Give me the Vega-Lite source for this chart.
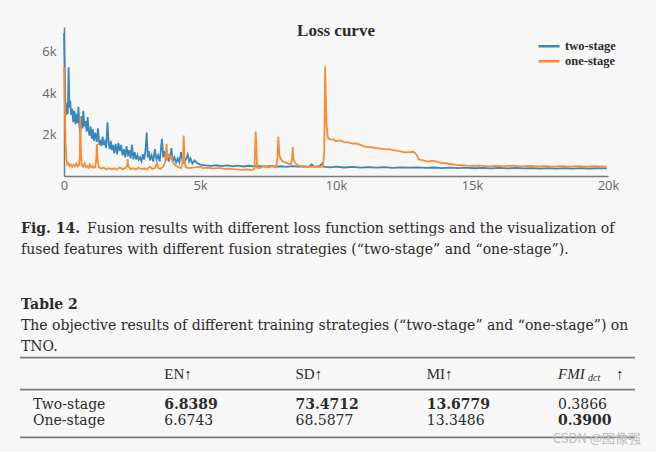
{
"$schema": "https://vega.github.io/schema/vega-lite/v6.json",
"width": 544, "height": 149,
"autosize": {"type": "none"},
"padding": {"left": 64, "top": 27, "right": 48, "bottom": 276},
"background": "#f7f7f7",
"config": {"view": {"stroke": null}},
"title": {"text": "Loss curve", "font": "Liberation Serif", "fontSize": 17, "fontWeight": "bold", "color": "#2b2b2b", "anchor": "middle", "frame": "group", "baseline": "alphabetic", "offset": -26},
"datasets": {
"loss": [
{"strategy":"two-stage","iteration":0,"loss":6900},{"strategy":"two-stage","iteration":20,"loss":5600},{"strategy":"two-stage","iteration":50,"loss":3600},{"strategy":"two-stage","iteration":80,"loss":2950},{"strategy":"two-stage","iteration":110,"loss":3500},{"strategy":"two-stage","iteration":140,"loss":3000},{"strategy":"two-stage","iteration":170,"loss":5250},{"strategy":"two-stage","iteration":200,"loss":3300},{"strategy":"two-stage","iteration":230,"loss":3650},{"strategy":"two-stage","iteration":260,"loss":2950},{"strategy":"two-stage","iteration":300,"loss":3250},{"strategy":"two-stage","iteration":340,"loss":2600},{"strategy":"two-stage","iteration":380,"loss":3150},{"strategy":"two-stage","iteration":420,"loss":2500},{"strategy":"two-stage","iteration":460,"loss":3000},{"strategy":"two-stage","iteration":500,"loss":2550},{"strategy":"two-stage","iteration":530,"loss":3350},{"strategy":"two-stage","iteration":570,"loss":2350},{"strategy":"two-stage","iteration":600,"loss":2050},{"strategy":"two-stage","iteration":640,"loss":2900},{"strategy":"two-stage","iteration":680,"loss":2300},{"strategy":"two-stage","iteration":710,"loss":3150},{"strategy":"two-stage","iteration":750,"loss":2400},{"strategy":"two-stage","iteration":790,"loss":2650},{"strategy":"two-stage","iteration":830,"loss":2150},{"strategy":"two-stage","iteration":870,"loss":2850},{"strategy":"two-stage","iteration":900,"loss":2200},{"strategy":"two-stage","iteration":940,"loss":1950},{"strategy":"two-stage","iteration":980,"loss":2400},{"strategy":"two-stage","iteration":1020,"loss":1800},{"strategy":"two-stage","iteration":1060,"loss":2250},{"strategy":"two-stage","iteration":1100,"loss":1700},{"strategy":"two-stage","iteration":1150,"loss":2100},{"strategy":"two-stage","iteration":1200,"loss":1650},{"strategy":"two-stage","iteration":1250,"loss":2300},{"strategy":"two-stage","iteration":1300,"loss":1500},{"strategy":"two-stage","iteration":1340,"loss":1750},{"strategy":"two-stage","iteration":1380,"loss":1450},{"strategy":"two-stage","iteration":1420,"loss":1900},{"strategy":"two-stage","iteration":1460,"loss":1500},{"strategy":"two-stage","iteration":1500,"loss":1650},{"strategy":"two-stage","iteration":1550,"loss":1350},{"strategy":"two-stage","iteration":1600,"loss":2600},{"strategy":"two-stage","iteration":1640,"loss":1600},{"strategy":"two-stage","iteration":1680,"loss":1300},{"strategy":"two-stage","iteration":1720,"loss":1700},{"strategy":"two-stage","iteration":1760,"loss":1250},{"strategy":"two-stage","iteration":1800,"loss":1500},{"strategy":"two-stage","iteration":1850,"loss":1100},{"strategy":"two-stage","iteration":1900,"loss":1550},{"strategy":"two-stage","iteration":1950,"loss":1050},{"strategy":"two-stage","iteration":2000,"loss":1600},{"strategy":"two-stage","iteration":2050,"loss":1200},{"strategy":"two-stage","iteration":2100,"loss":1500},{"strategy":"two-stage","iteration":2150,"loss":1000},{"strategy":"two-stage","iteration":2200,"loss":1300},{"strategy":"two-stage","iteration":2250,"loss":900},{"strategy":"two-stage","iteration":2300,"loss":1450},{"strategy":"two-stage","iteration":2350,"loss":950},{"strategy":"two-stage","iteration":2400,"loss":1250},{"strategy":"two-stage","iteration":2450,"loss":850},{"strategy":"two-stage","iteration":2500,"loss":1500},{"strategy":"two-stage","iteration":2550,"loss":800},{"strategy":"two-stage","iteration":2600,"loss":1150},{"strategy":"two-stage","iteration":2650,"loss":800},{"strategy":"two-stage","iteration":2700,"loss":1000},{"strategy":"two-stage","iteration":2750,"loss":780},{"strategy":"two-stage","iteration":2800,"loss":900},{"strategy":"two-stage","iteration":2850,"loss":720},{"strategy":"two-stage","iteration":2900,"loss":1050},{"strategy":"two-stage","iteration":2950,"loss":800},{"strategy":"two-stage","iteration":3000,"loss":1300},{"strategy":"two-stage","iteration":3040,"loss":2100},{"strategy":"two-stage","iteration":3080,"loss":900},{"strategy":"two-stage","iteration":3120,"loss":1200},{"strategy":"two-stage","iteration":3160,"loss":750},{"strategy":"two-stage","iteration":3220,"loss":1000},{"strategy":"two-stage","iteration":3280,"loss":700},{"strategy":"two-stage","iteration":3340,"loss":1300},{"strategy":"two-stage","iteration":3400,"loss":800},{"strategy":"two-stage","iteration":3460,"loss":1000},{"strategy":"two-stage","iteration":3520,"loss":700},{"strategy":"two-stage","iteration":3600,"loss":1800},{"strategy":"two-stage","iteration":3650,"loss":900},{"strategy":"two-stage","iteration":3700,"loss":1200},{"strategy":"two-stage","iteration":3750,"loss":750},{"strategy":"two-stage","iteration":3800,"loss":1050},{"strategy":"two-stage","iteration":3850,"loss":700},{"strategy":"two-stage","iteration":3900,"loss":950},{"strategy":"two-stage","iteration":3950,"loss":1350},{"strategy":"two-stage","iteration":4000,"loss":700},{"strategy":"two-stage","iteration":4060,"loss":900},{"strategy":"two-stage","iteration":4120,"loss":650},{"strategy":"two-stage","iteration":4180,"loss":850},{"strategy":"two-stage","iteration":4240,"loss":650},{"strategy":"two-stage","iteration":4300,"loss":1150},{"strategy":"two-stage","iteration":4360,"loss":700},{"strategy":"two-stage","iteration":4420,"loss":620},{"strategy":"two-stage","iteration":4480,"loss":800},{"strategy":"two-stage","iteration":4550,"loss":1050},{"strategy":"two-stage","iteration":4600,"loss":700},{"strategy":"two-stage","iteration":4650,"loss":850},{"strategy":"two-stage","iteration":4720,"loss":600},{"strategy":"two-stage","iteration":4800,"loss":750},{"strategy":"two-stage","iteration":4900,"loss":620},{"strategy":"two-stage","iteration":5000,"loss":560},{"strategy":"two-stage","iteration":5100,"loss":520},{"strategy":"two-stage","iteration":5200,"loss":510},{"strategy":"two-stage","iteration":5400,"loss":490},{"strategy":"two-stage","iteration":5600,"loss":520},{"strategy":"two-stage","iteration":5800,"loss":480},{"strategy":"two-stage","iteration":6000,"loss":510},{"strategy":"two-stage","iteration":6200,"loss":470},{"strategy":"two-stage","iteration":6400,"loss":500},{"strategy":"two-stage","iteration":6600,"loss":460},{"strategy":"two-stage","iteration":6800,"loss":495},{"strategy":"two-stage","iteration":7000,"loss":470},{"strategy":"two-stage","iteration":7200,"loss":480},{"strategy":"two-stage","iteration":7400,"loss":450},{"strategy":"two-stage","iteration":7600,"loss":490},{"strategy":"two-stage","iteration":7800,"loss":455},{"strategy":"two-stage","iteration":8000,"loss":470},{"strategy":"two-stage","iteration":8200,"loss":440},{"strategy":"two-stage","iteration":8400,"loss":475},{"strategy":"two-stage","iteration":8600,"loss":450},{"strategy":"two-stage","iteration":8800,"loss":460},{"strategy":"two-stage","iteration":9000,"loss":440},{"strategy":"two-stage","iteration":9100,"loss":560},{"strategy":"two-stage","iteration":9200,"loss":450},{"strategy":"two-stage","iteration":9400,"loss":480},{"strategy":"two-stage","iteration":9500,"loss":620},{"strategy":"two-stage","iteration":9550,"loss":450},{"strategy":"two-stage","iteration":9800,"loss":420},{"strategy":"two-stage","iteration":10000,"loss":450},{"strategy":"two-stage","iteration":10300,"loss":410},{"strategy":"two-stage","iteration":10600,"loss":440},{"strategy":"two-stage","iteration":10900,"loss":405},{"strategy":"two-stage","iteration":11200,"loss":430},{"strategy":"two-stage","iteration":11500,"loss":400},{"strategy":"two-stage","iteration":11800,"loss":425},{"strategy":"two-stage","iteration":12100,"loss":395},{"strategy":"two-stage","iteration":12400,"loss":420},{"strategy":"two-stage","iteration":12700,"loss":400},{"strategy":"two-stage","iteration":13000,"loss":415},{"strategy":"two-stage","iteration":13300,"loss":390},{"strategy":"two-stage","iteration":13600,"loss":410},{"strategy":"two-stage","iteration":13900,"loss":385},{"strategy":"two-stage","iteration":14200,"loss":405},{"strategy":"two-stage","iteration":14500,"loss":380},{"strategy":"two-stage","iteration":14800,"loss":400},{"strategy":"two-stage","iteration":15100,"loss":375},{"strategy":"two-stage","iteration":15400,"loss":395},{"strategy":"two-stage","iteration":15700,"loss":370},{"strategy":"two-stage","iteration":16000,"loss":390},{"strategy":"two-stage","iteration":16300,"loss":365},{"strategy":"two-stage","iteration":16600,"loss":390},{"strategy":"two-stage","iteration":16900,"loss":365},{"strategy":"two-stage","iteration":17200,"loss":385},{"strategy":"two-stage","iteration":17500,"loss":360},{"strategy":"two-stage","iteration":17800,"loss":385},{"strategy":"two-stage","iteration":18100,"loss":360},{"strategy":"two-stage","iteration":18400,"loss":380},{"strategy":"two-stage","iteration":18700,"loss":355},{"strategy":"two-stage","iteration":19000,"loss":380},{"strategy":"two-stage","iteration":19300,"loss":360},{"strategy":"two-stage","iteration":19600,"loss":375},{"strategy":"two-stage","iteration":19950,"loss":365},
{"strategy":"one-stage","iteration":0,"loss":5250},{"strategy":"one-stage","iteration":30,"loss":3500},{"strategy":"one-stage","iteration":60,"loss":1500},{"strategy":"one-stage","iteration":90,"loss":800},{"strategy":"one-stage","iteration":120,"loss":560},{"strategy":"one-stage","iteration":160,"loss":620},{"strategy":"one-stage","iteration":200,"loss":480},{"strategy":"one-stage","iteration":250,"loss":560},{"strategy":"one-stage","iteration":300,"loss":450},{"strategy":"one-stage","iteration":350,"loss":540},{"strategy":"one-stage","iteration":400,"loss":470},{"strategy":"one-stage","iteration":450,"loss":600},{"strategy":"one-stage","iteration":500,"loss":460},{"strategy":"one-stage","iteration":550,"loss":520},{"strategy":"one-stage","iteration":580,"loss":900},{"strategy":"one-stage","iteration":600,"loss":2850},{"strategy":"one-stage","iteration":620,"loss":1300},{"strategy":"one-stage","iteration":650,"loss":520},{"strategy":"one-stage","iteration":700,"loss":440},{"strategy":"one-stage","iteration":760,"loss":600},{"strategy":"one-stage","iteration":800,"loss":420},{"strategy":"one-stage","iteration":850,"loss":480},{"strategy":"one-stage","iteration":900,"loss":400},{"strategy":"one-stage","iteration":950,"loss":560},{"strategy":"one-stage","iteration":1000,"loss":420},{"strategy":"one-stage","iteration":1050,"loss":470},{"strategy":"one-stage","iteration":1100,"loss":390},{"strategy":"one-stage","iteration":1150,"loss":430},{"strategy":"one-stage","iteration":1190,"loss":900},{"strategy":"one-stage","iteration":1210,"loss":1550},{"strategy":"one-stage","iteration":1240,"loss":700},{"strategy":"one-stage","iteration":1280,"loss":420},{"strategy":"one-stage","iteration":1350,"loss":360},{"strategy":"one-stage","iteration":1450,"loss":400},{"strategy":"one-stage","iteration":1550,"loss":330},{"strategy":"one-stage","iteration":1650,"loss":380},{"strategy":"one-stage","iteration":1750,"loss":320},{"strategy":"one-stage","iteration":1850,"loss":360},{"strategy":"one-stage","iteration":1950,"loss":310},{"strategy":"one-stage","iteration":2050,"loss":420},{"strategy":"one-stage","iteration":2150,"loss":330},{"strategy":"one-stage","iteration":2250,"loss":370},{"strategy":"one-stage","iteration":2320,"loss":500},{"strategy":"one-stage","iteration":2340,"loss":800},{"strategy":"one-stage","iteration":2370,"loss":450},{"strategy":"one-stage","iteration":2450,"loss":330},{"strategy":"one-stage","iteration":2550,"loss":380},{"strategy":"one-stage","iteration":2650,"loss":320},{"strategy":"one-stage","iteration":2750,"loss":400},{"strategy":"one-stage","iteration":2850,"loss":330},{"strategy":"one-stage","iteration":2950,"loss":360},{"strategy":"one-stage","iteration":3050,"loss":320},{"strategy":"one-stage","iteration":3150,"loss":450},{"strategy":"one-stage","iteration":3250,"loss":340},{"strategy":"one-stage","iteration":3350,"loss":400},{"strategy":"one-stage","iteration":3420,"loss":620},{"strategy":"one-stage","iteration":3460,"loss":380},{"strategy":"one-stage","iteration":3550,"loss":350},{"strategy":"one-stage","iteration":3650,"loss":450},{"strategy":"one-stage","iteration":3720,"loss":700},{"strategy":"one-stage","iteration":3770,"loss":1550},{"strategy":"one-stage","iteration":3800,"loss":900},{"strategy":"one-stage","iteration":3850,"loss":1000},{"strategy":"one-stage","iteration":3900,"loss":850},{"strategy":"one-stage","iteration":3950,"loss":950},{"strategy":"one-stage","iteration":4000,"loss":650},{"strategy":"one-stage","iteration":4100,"loss":500},{"strategy":"one-stage","iteration":4200,"loss":430},{"strategy":"one-stage","iteration":4300,"loss":380},{"strategy":"one-stage","iteration":4370,"loss":700},{"strategy":"one-stage","iteration":4400,"loss":1950},{"strategy":"one-stage","iteration":4430,"loss":700},{"strategy":"one-stage","iteration":4480,"loss":420},{"strategy":"one-stage","iteration":4600,"loss":380},{"strategy":"one-stage","iteration":4800,"loss":420},{"strategy":"one-stage","iteration":5000,"loss":450},{"strategy":"one-stage","iteration":5100,"loss":380},{"strategy":"one-stage","iteration":5300,"loss":400},{"strategy":"one-stage","iteration":5500,"loss":360},{"strategy":"one-stage","iteration":5700,"loss":390},{"strategy":"one-stage","iteration":5900,"loss":340},{"strategy":"one-stage","iteration":6100,"loss":360},{"strategy":"one-stage","iteration":6300,"loss":320},{"strategy":"one-stage","iteration":6500,"loss":300},{"strategy":"one-stage","iteration":6700,"loss":320},{"strategy":"one-stage","iteration":6900,"loss":290},{"strategy":"one-stage","iteration":7000,"loss":350},{"strategy":"one-stage","iteration":7050,"loss":2150},{"strategy":"one-stage","iteration":7100,"loss":400},{"strategy":"one-stage","iteration":7200,"loss":380},{"strategy":"one-stage","iteration":7350,"loss":480},{"strategy":"one-stage","iteration":7500,"loss":420},{"strategy":"one-stage","iteration":7650,"loss":470},{"strategy":"one-stage","iteration":7800,"loss":420},{"strategy":"one-stage","iteration":7850,"loss":900},{"strategy":"one-stage","iteration":7880,"loss":1900},{"strategy":"one-stage","iteration":7920,"loss":1000},{"strategy":"one-stage","iteration":7980,"loss":800},{"strategy":"one-stage","iteration":8050,"loss":700},{"strategy":"one-stage","iteration":8150,"loss":650},{"strategy":"one-stage","iteration":8250,"loss":600},{"strategy":"one-stage","iteration":8350,"loss":560},{"strategy":"one-stage","iteration":8390,"loss":900},{"strategy":"one-stage","iteration":8410,"loss":1400},{"strategy":"one-stage","iteration":8440,"loss":800},{"strategy":"one-stage","iteration":8500,"loss":620},{"strategy":"one-stage","iteration":8600,"loss":520},{"strategy":"one-stage","iteration":8700,"loss":480},{"strategy":"one-stage","iteration":8850,"loss":460},{"strategy":"one-stage","iteration":9000,"loss":440},{"strategy":"one-stage","iteration":9200,"loss":450},{"strategy":"one-stage","iteration":9400,"loss":430},{"strategy":"one-stage","iteration":9520,"loss":460},{"strategy":"one-stage","iteration":9570,"loss":1200},{"strategy":"one-stage","iteration":9600,"loss":5300},{"strategy":"one-stage","iteration":9650,"loss":2500},{"strategy":"one-stage","iteration":9700,"loss":1850},{"strategy":"one-stage","iteration":9800,"loss":1750},{"strategy":"one-stage","iteration":9900,"loss":1780},{"strategy":"one-stage","iteration":10000,"loss":1680},{"strategy":"one-stage","iteration":10150,"loss":1720},{"strategy":"one-stage","iteration":10300,"loss":1640},{"strategy":"one-stage","iteration":10450,"loss":1620},{"strategy":"one-stage","iteration":10600,"loss":1560},{"strategy":"one-stage","iteration":10750,"loss":1570},{"strategy":"one-stage","iteration":10900,"loss":1500},{"strategy":"one-stage","iteration":11050,"loss":1420},{"strategy":"one-stage","iteration":11200,"loss":1400},{"strategy":"one-stage","iteration":11350,"loss":1380},{"strategy":"one-stage","iteration":11500,"loss":1340},{"strategy":"one-stage","iteration":11650,"loss":1320},{"strategy":"one-stage","iteration":11800,"loss":1290},{"strategy":"one-stage","iteration":11950,"loss":1300},{"strategy":"one-stage","iteration":12100,"loss":1250},{"strategy":"one-stage","iteration":12250,"loss":1230},{"strategy":"one-stage","iteration":12400,"loss":1180},{"strategy":"one-stage","iteration":12550,"loss":1140},{"strategy":"one-stage","iteration":12700,"loss":1150},{"strategy":"one-stage","iteration":12850,"loss":1170},{"strategy":"one-stage","iteration":12950,"loss":1050},{"strategy":"one-stage","iteration":13050,"loss":800},{"strategy":"one-stage","iteration":13200,"loss":760},{"strategy":"one-stage","iteration":13400,"loss":700},{"strategy":"one-stage","iteration":13550,"loss":740},{"strategy":"one-stage","iteration":13700,"loss":690},{"strategy":"one-stage","iteration":13850,"loss":640},{"strategy":"one-stage","iteration":14000,"loss":620},{"strategy":"one-stage","iteration":14200,"loss":580},{"strategy":"one-stage","iteration":14400,"loss":540},{"strategy":"one-stage","iteration":14600,"loss":520},{"strategy":"one-stage","iteration":14800,"loss":500},{"strategy":"one-stage","iteration":15000,"loss":490},{"strategy":"one-stage","iteration":15300,"loss":500},{"strategy":"one-stage","iteration":15600,"loss":470},{"strategy":"one-stage","iteration":15900,"loss":490},{"strategy":"one-stage","iteration":16200,"loss":460},{"strategy":"one-stage","iteration":16500,"loss":500},{"strategy":"one-stage","iteration":16800,"loss":470},{"strategy":"one-stage","iteration":17100,"loss":490},{"strategy":"one-stage","iteration":17400,"loss":460},{"strategy":"one-stage","iteration":17700,"loss":480},{"strategy":"one-stage","iteration":18000,"loss":455},{"strategy":"one-stage","iteration":18300,"loss":480},{"strategy":"one-stage","iteration":18600,"loss":450},{"strategy":"one-stage","iteration":18900,"loss":475},{"strategy":"one-stage","iteration":19200,"loss":450},{"strategy":"one-stage","iteration":19500,"loss":470},{"strategy":"one-stage","iteration":19950,"loss":455}
],
"figureCaption": [
{"line": 1, "part": "label", "text": "Fig. 14."},
{"line": 1, "part": "body", "text": "Fusion results with different loss function settings and the visualization of"},
{"line": 2, "part": "body", "text": "fused features with different fusion strategies (“two-stage” and “one-stage”)."}
],
"tableCaption": [
{"line": 1, "part": "label", "text": "Table 2"},
{"line": 2, "part": "body", "text": "The objective results of different training strategies (“two-stage” and “one-stage”) on"},
{"line": 3, "part": "body", "text": "TNO."}
],
"tableHeader": [
{"col": "EN", "text": "EN↑", "sub": "", "arrow": ""},
{"col": "SD", "text": "SD↑", "sub": "", "arrow": ""},
{"col": "MI", "text": "MI↑", "sub": "", "arrow": ""},
{"col": "FMI", "text": "FMI", "sub": "dct", "arrow": "↑"}
],
"tableCells": [
{"row": "Two-stage", "col": "EN", "value": 6.8389, "best": true},
{"row": "Two-stage", "col": "SD", "value": 73.4712, "best": true},
{"row": "Two-stage", "col": "MI", "value": 13.6779, "best": true},
{"row": "Two-stage", "col": "FMI", "value": 0.3866, "best": false},
{"row": "One-stage", "col": "EN", "value": 6.6743, "best": false},
{"row": "One-stage", "col": "SD", "value": 68.5877, "best": false},
{"row": "One-stage", "col": "MI", "value": 13.3486, "best": false},
{"row": "One-stage", "col": "FMI", "value": 0.3900, "best": true}
],
"tableRules": [
{"row": "rule-top"},
{"row": "rule-mid"},
{"row": "rule-bottom"}
]
},
"resolve": {"scale": {"x": "independent", "y": "independent"}},
"layer": [
{
"data": {"name": "loss"},
"mark": {"type": "line", "strokeWidth": 1.8},
"encoding": {
"x": {"field": "iteration", "type": "quantitative", "scale": {"domain": [0, 20000], "nice": false, "zero": false},
"axis": {"values": [0, 5000, 10000, 15000, 20000], "labelExpr": "datum.value == 0 ? '0' : format(datum.value, '~s')", "labelFlush": false, "ticks": false, "grid": false, "domainColor": "#7a7a7a", "domainWidth": 1.5, "labelColor": "#666666", "labelFont": "Open Sans", "labelFontSize": 13, "labelPadding": 3, "title": null}},
"y": {"field": "loss", "type": "quantitative", "scale": {"domain": [0, 7200], "nice": false, "zero": false},
"axis": {"values": [2000, 4000, 6000], "labelExpr": "format(datum.value, '~s')", "ticks": false, "grid": false, "domainColor": "#7a7a7a", "domainWidth": 1.5, "labelColor": "#666666", "labelFont": "Open Sans", "labelFontSize": 13, "labelPadding": 8, "title": null}},
"color": {"field": "strategy", "type": "nominal", "scale": {"domain": ["two-stage", "one-stage"], "range": ["#3a86be", "#fd8c2e"]},
"legend": {"title": null, "orient": "none", "direction": "vertical", "legendX": 473, "legendY": 12, "symbolType": "stroke", "symbolSize": 441, "symbolStrokeWidth": 2.5, "clipHeight": 14.5, "labelFont": "Liberation Serif", "labelFontSize": 12.5, "labelFontWeight": "bold", "labelColor": "#2b2b2b", "labelOffset": 4, "rowPadding": 0, "padding": 0}}
}
},
{
"data": {"name": "figureCaption"},
"layer": [
{"transform": [{"filter": "datum.part === 'label'"}],
"mark": {"type": "text", "align": "left", "baseline": "alphabetic", "font": "DejaVu Serif", "fontSize": 14, "fontWeight": "bold", "color": "#2b2b2b"},
"encoding": {
"x": {"datum": 0, "type": "quantitative", "scale": {"domain": [0, 1], "range": [-43, 571]}, "axis": null},
"y": {"field": "line", "type": "ordinal", "scale": {"type": "point", "domain": [1, 2], "range": [205.7, 227.3], "padding": 0}, "axis": null},
"text": {"field": "text"}}},
{"transform": [{"filter": "datum.part === 'body' && datum.line === 1"}],
"mark": {"type": "text", "align": "left", "baseline": "alphabetic", "font": "DejaVu Serif", "fontSize": 14, "color": "#2b2b2b", "dx": 66},
"encoding": {
"x": {"datum": 0, "type": "quantitative", "scale": {"domain": [0, 1], "range": [-43, 571]}, "axis": null},
"y": {"field": "line", "type": "ordinal", "scale": {"type": "point", "domain": [1, 2], "range": [205.7, 227.3], "padding": 0}, "axis": null},
"text": {"field": "text"}}},
{"transform": [{"filter": "datum.part === 'body' && datum.line === 2"}],
"mark": {"type": "text", "align": "left", "baseline": "alphabetic", "font": "DejaVu Serif", "fontSize": 14, "color": "#2b2b2b"},
"encoding": {
"x": {"datum": 0, "type": "quantitative", "scale": {"domain": [0, 1], "range": [-43, 571]}, "axis": null},
"y": {"field": "line", "type": "ordinal", "scale": {"type": "point", "domain": [1, 2], "range": [205.7, 227.3], "padding": 0}, "axis": null},
"text": {"field": "text"}}}
]
},
{
"data": {"name": "tableCaption"},
"layer": [
{"transform": [{"filter": "datum.part === 'label'"}],
"mark": {"type": "text", "align": "left", "baseline": "alphabetic", "font": "DejaVu Serif", "fontSize": 14, "fontWeight": "bold", "color": "#2b2b2b"},
"encoding": {
"x": {"datum": 0, "type": "quantitative", "scale": {"domain": [0, 1], "range": [-43, 571]}, "axis": null},
"y": {"field": "line", "type": "ordinal", "scale": {"type": "point", "domain": [1, 2, 3], "range": [281.7, 324], "padding": 0}, "axis": null},
"text": {"field": "text"}}},
{"transform": [{"filter": "datum.part === 'body'"}],
"mark": {"type": "text", "align": "left", "baseline": "alphabetic", "font": "DejaVu Serif", "fontSize": 14, "color": "#2b2b2b"},
"encoding": {
"x": {"datum": 0, "type": "quantitative", "scale": {"domain": [0, 1], "range": [-43, 571]}, "axis": null},
"y": {"field": "line", "type": "ordinal", "scale": {"type": "point", "domain": [1, 2, 3], "range": [281.7, 324], "padding": 0}, "axis": null},
"text": {"field": "text"}}}
]
},
{
"layer": [
{"data": {"name": "tableCells"},
"transform": [{"filter": "datum.col === 'EN'"}],
"mark": {"type": "text", "align": "left", "baseline": "middle", "font": "DejaVu Serif", "fontSize": 14, "color": "#2b2b2b"},
"encoding": {
"x": {"datum": "label", "type": "nominal", "scale": {"type": "point", "domain": ["label", "EN", "SD", "MI", "FMI"], "range": [-31, 494], "padding": 0}, "axis": null},
"y": {"field": "row", "type": "nominal", "scale": {"type": "point", "domain": ["rule-top", "header", "rule-mid", "Two-stage", "One-stage", "rule-bottom"], "range": [330.7, 410.3], "padding": 0}, "axis": null},
"text": {"field": "row"}}},
{"data": {"name": "tableCells"},
"transform": [{"filter": "!datum.best"}],
"mark": {"type": "text", "align": "left", "baseline": "middle", "font": "DejaVu Serif", "fontSize": 14, "color": "#2b2b2b"},
"encoding": {
"x": {"field": "col", "type": "nominal", "scale": {"type": "point", "domain": ["label", "EN", "SD", "MI", "FMI"], "range": [-31, 494], "padding": 0}, "axis": null},
"y": {"field": "row", "type": "nominal", "scale": {"type": "point", "domain": ["rule-top", "header", "rule-mid", "Two-stage", "One-stage", "rule-bottom"], "range": [330.7, 410.3], "padding": 0}, "axis": null},
"text": {"field": "value", "type": "quantitative", "format": ".4f"}}},
{"data": {"name": "tableCells"},
"transform": [{"filter": "datum.best"}],
"mark": {"type": "text", "align": "left", "baseline": "middle", "font": "DejaVu Serif", "fontSize": 14, "fontWeight": "bold", "color": "#2b2b2b"},
"encoding": {
"x": {"field": "col", "type": "nominal", "scale": {"type": "point", "domain": ["label", "EN", "SD", "MI", "FMI"], "range": [-31, 494], "padding": 0}, "axis": null},
"y": {"field": "row", "type": "nominal", "scale": {"type": "point", "domain": ["rule-top", "header", "rule-mid", "Two-stage", "One-stage", "rule-bottom"], "range": [330.7, 410.3], "padding": 0}, "axis": null},
"text": {"field": "value", "type": "quantitative", "format": ".4f"}}},
{"data": {"name": "tableHeader"},
"transform": [{"filter": "datum.col !== 'FMI'"}],
"mark": {"type": "text", "align": "left", "baseline": "middle", "font": "Liberation Serif", "fontSize": 15, "color": "#2b2b2b"},
"encoding": {
"x": {"field": "col", "type": "nominal", "scale": {"type": "point", "domain": ["label", "EN", "SD", "MI", "FMI"], "range": [-31, 494], "padding": 0}, "axis": null},
"y": {"datum": "header", "type": "nominal", "scale": {"type": "point", "domain": ["rule-top", "header", "rule-mid", "Two-stage", "One-stage", "rule-bottom"], "range": [330.7, 410.3], "padding": 0}, "axis": null},
"text": {"field": "text"}}},
{"data": {"name": "tableHeader"},
"transform": [{"filter": "datum.col === 'FMI'"}],
"mark": {"type": "text", "align": "left", "baseline": "middle", "font": "Liberation Serif", "fontSize": 15, "fontStyle": "italic", "color": "#2b2b2b"},
"encoding": {
"x": {"field": "col", "type": "nominal", "scale": {"type": "point", "domain": ["label", "EN", "SD", "MI", "FMI"], "range": [-31, 494], "padding": 0}, "axis": null},
"y": {"datum": "header", "type": "nominal", "scale": {"type": "point", "domain": ["rule-top", "header", "rule-mid", "Two-stage", "One-stage", "rule-bottom"], "range": [330.7, 410.3], "padding": 0}, "axis": null},
"text": {"field": "text"}}},
{"data": {"name": "tableHeader"},
"transform": [{"filter": "datum.col === 'FMI'"}],
"mark": {"type": "text", "align": "left", "baseline": "middle", "font": "Liberation Serif", "fontSize": 10, "fontStyle": "italic", "color": "#2b2b2b", "dx": 30, "dy": 4},
"encoding": {
"x": {"field": "col", "type": "nominal", "scale": {"type": "point", "domain": ["label", "EN", "SD", "MI", "FMI"], "range": [-31, 494], "padding": 0}, "axis": null},
"y": {"datum": "header", "type": "nominal", "scale": {"type": "point", "domain": ["rule-top", "header", "rule-mid", "Two-stage", "One-stage", "rule-bottom"], "range": [330.7, 410.3], "padding": 0}, "axis": null},
"text": {"field": "sub"}}},
{"data": {"name": "tableHeader"},
"transform": [{"filter": "datum.col === 'FMI'"}],
"mark": {"type": "text", "align": "left", "baseline": "middle", "font": "Liberation Serif", "fontSize": 15, "color": "#2b2b2b", "dx": 58},
"encoding": {
"x": {"field": "col", "type": "nominal", "scale": {"type": "point", "domain": ["label", "EN", "SD", "MI", "FMI"], "range": [-31, 494], "padding": 0}, "axis": null},
"y": {"datum": "header", "type": "nominal", "scale": {"type": "point", "domain": ["rule-top", "header", "rule-mid", "Two-stage", "One-stage", "rule-bottom"], "range": [330.7, 410.3], "padding": 0}, "axis": null},
"text": {"field": "arrow"}}}
]
},
{
"layer": [
{"data": {"name": "tableRules"},
"mark": {"type": "rule", "color": "#7a7a7a", "strokeWidth": 1.8},
"encoding": {
"x": {"datum": 0, "type": "quantitative", "scale": {"domain": [0, 1], "range": [-44, 571]}, "axis": null},
"x2": {"datum": 1},
"y": {"field": "row", "type": "nominal", "scale": {"type": "point", "domain": ["rule-top", "header", "rule-mid", "Two-stage", "One-stage", "rule-bottom"], "range": [330.7, 410.3], "padding": 0}, "axis": null}}},
{"data": {"values": [{"text": "CSDN @图像强"}]},
"mark": {"type": "text", "align": "right", "baseline": "middle", "font": "Noto Sans CJK SC", "fontSize": 13, "color": "#bdbdbd", "dx": 6, "dy": 2},
"encoding": {
"x": {"datum": 1, "type": "quantitative", "scale": {"domain": [0, 1], "range": [-44, 571]}, "axis": null},
"y": {"datum": "rule-bottom", "type": "nominal", "scale": {"type": "point", "domain": ["rule-top", "header", "rule-mid", "Two-stage", "One-stage", "rule-bottom"], "range": [330.7, 410.3], "padding": 0}, "axis": null},
"text": {"field": "text"}}}
]
}
]
}
